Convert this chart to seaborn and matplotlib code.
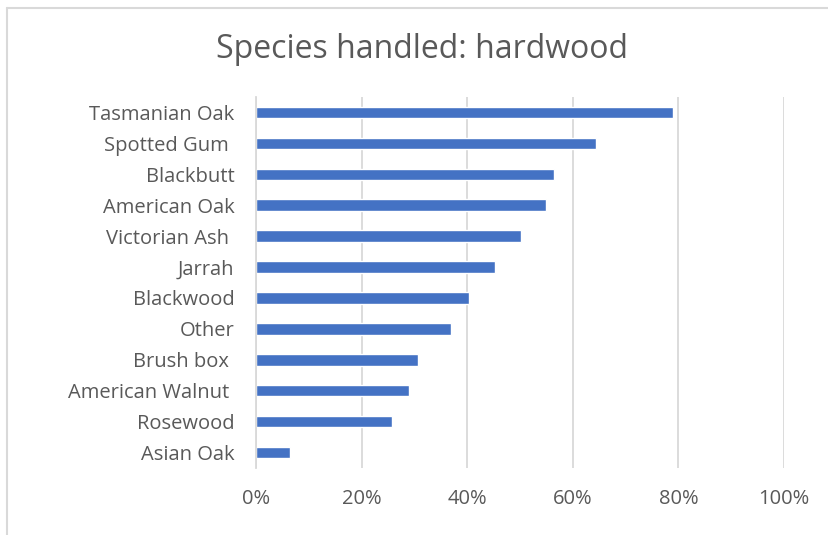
import matplotlib
matplotlib.use("Agg")
import matplotlib.pyplot as plt
import seaborn as sns
import pandas as pd
from matplotlib.lines import Line2D

# Datos
species = ["Tasmanian Oak", "Spotted Gum ", "Blackbutt", "American Oak", "Victorian Ash ",
           "Jarrah", "Blackwood", "Other", "Brush box ", "American Walnut ", "Rosewood", "Asian Oak"]
share = [78.9, 64.4, 56.4, 54.9, 50.1, 45.2, 40.3, 36.9, 30.6, 29.0, 25.8, 6.4]
x_ticks = [0, 20, 40, 60, 80, 100]
x_tick_labels = ["0%", "20%", "40%", "60%", "80%", "100%"]

df = pd.DataFrame({"species": species, "share": share})

sns.set_style("white")
plt.rcParams["font.family"] = ["Open Sans", "DejaVu Sans"]

W, H = 829, 535
fig = plt.figure(figsize=(W / 100, H / 100), dpi=100)
ax = fig.add_axes([256 / W, 1 - 468 / H, (784 - 256) / W, (468 - 97) / H])

sns.barplot(data=df, x="share", y="species", color="#4472C4", width=0.37,
            saturation=1, ax=ax, order=species)

ax.set_xlim(0, 100)
ax.set_ylim(11.5, -0.5)
ax.set_xticks(x_ticks)
ax.set_xticklabels(x_tick_labels)
ax.grid(axis="x", color="#D9D9D9", linewidth=1.3)
ax.set_axisbelow(True)
for s in ["top", "right", "bottom"]:
    ax.spines[s].set_visible(False)
ax.spines["left"].set_color("#D9D9D9")
ax.spines["left"].set_linewidth(1.3)
ax.tick_params(axis="both", length=0, labelsize=14.5, colors="#595959")
ax.tick_params(axis="x", pad=15)
ax.tick_params(axis="y", pad=15.5)
ax.set_xlabel("")
ax.set_ylabel("")

fig.text(422 / W, 1 - 50 / H, "Species handled: hardwood", ha="center", va="center",
         fontsize=23, color="#595959")

# Marco del grafico
fig.add_artist(Line2D([7 / W, 7 / W], [0, 1 - 8 / H], color="#D9D9D9", linewidth=1.5,
                      transform=fig.transFigure))
fig.add_artist(Line2D([7 / W, 1], [1 - 8 / H, 1 - 8 / H], color="#D9D9D9", linewidth=1.5,
                      transform=fig.transFigure))

fig.savefig("out.png", dpi=100)
